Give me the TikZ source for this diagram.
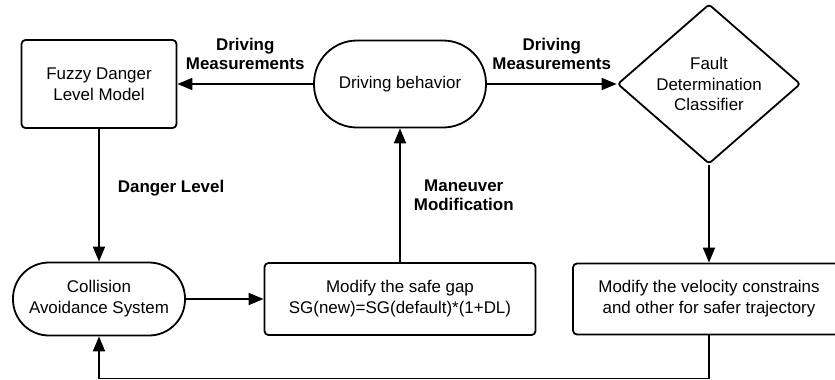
\documentclass[tikz,border=0pt]{standalone}
\usepackage{fontspec}
\setmainfont{Liberation Sans}
\usetikzlibrary{arrows.meta,shapes.geometric}

\begin{document}
\begin{tikzpicture}[x=1bp,y=-1bp,line width=1.8bp,
    >={Triangle[length=15bp,width=12bp]},
    font=\fontsize{17}{21}\selectfont,
    box/.style={rectangle,draw,rounded corners=4bp,align=center,inner sep=0pt},
    pill/.style={rectangle,draw,align=center,inner sep=0pt},
    decision/.style={diamond,draw,rounded corners=3bp,align=center,inner sep=0pt,
        minimum width=183bp,minimum height=151bp},
    lbl/.style={font=\fontsize{17}{20}\selectfont\bfseries,align=center,inner sep=0pt}]
            \useasboundingbox (0,0) rectangle (835,379);
            \node[box,minimum width=155bp,minimum height=88bp] (fdl) at (99,84) {Fuzzy Danger\\Level Model};
            \node[pill,rounded corners=43bp,minimum width=172bp,minimum height=87bp] (db) at (400,84) {Driving behavior};
            \node[decision] (fdc) at (709,84) {Fault\\Determination\\Classifier};
            \node[pill,rounded corners=36bp,minimum width=172bp,minimum height=73bp] (cas) at (99,299) {Collision\\Avoidance System};
            \node[box,minimum width=271bp,minimum height=72bp] (msg) at (400,299) {Modify the safe gap\\SG(new)=SG(default)*(1+DL)};
            \node[box,minimum width=272bp,minimum height=71bp] (mvc) at (709,299) {Modify the velocity constrains\\and other for safer trajectory};
            \draw (db) edge [->] node[lbl,above=13bp]{Driving\\Measurements} (fdl);
            \draw (db) edge [->] node[lbl,above=13bp]{Driving\\Measurements} (fdc);
            \draw (fdl) edge [->] node[lbl,pos=0.45,right=18bp]{Danger Level} (cas);
            \draw (msg) edge [->] node[lbl,right=13bp]{Maneuver\\Modification} (db);
            \draw (cas) edge [->] (msg);
            \draw (fdc) edge [->] (mvc);
            \draw[->] (mvc.south) -- ++(0,43) -| (cas.south);
        \end{tikzpicture}
\end{document}
